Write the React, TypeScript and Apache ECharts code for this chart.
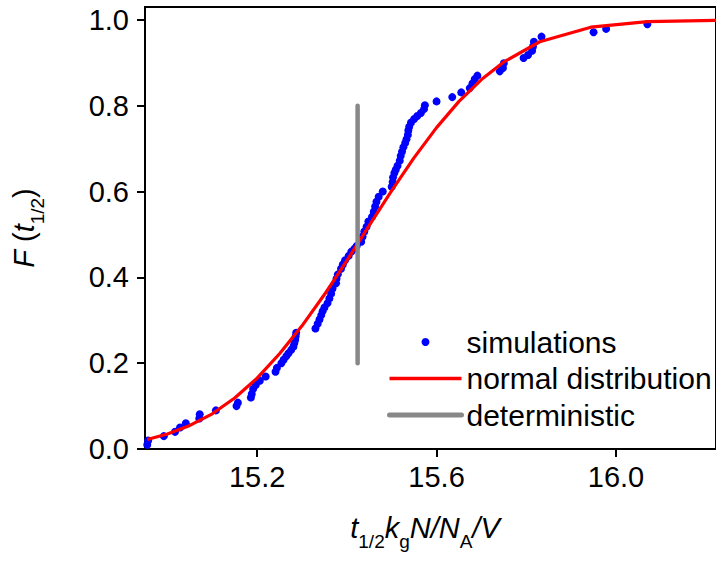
import React, { useEffect, useRef } from "react";
import * as echarts from "echarts";

// ---------- data ----------
const xTicks = [15.2, 15.6, 16.0];
const yTicks = [0, 0.2, 0.4, 0.6, 0.8, 1.0];

const simX = [
  14.955, 14.957, 14.992, 15.017, 15.028, 15.041, 15.071, 15.072, 15.108, 15.154,
  15.157, 15.186, 15.188, 15.191, 15.197, 15.206, 15.219, 15.241, 15.244, 15.254,
  15.259, 15.265, 15.270, 15.276, 15.281, 15.283, 15.285, 15.286, 15.287, 15.330,
  15.335, 15.339, 15.343, 15.346, 15.350, 15.357, 15.361, 15.365, 15.368, 15.376,
  15.377, 15.380, 15.387, 15.391, 15.396, 15.404, 15.410, 15.417, 15.422, 15.432,
  15.435, 15.439, 15.444, 15.448, 15.456, 15.460, 15.463, 15.466, 15.471, 15.480,
  15.500, 15.502, 15.503, 15.506, 15.509, 15.513, 15.518, 15.520, 15.523, 15.526,
  15.530, 15.533, 15.536, 15.537, 15.539, 15.543, 15.550, 15.557, 15.565, 15.572,
  15.574, 15.600, 15.635, 15.655, 15.674, 15.680, 15.685, 15.691, 15.741, 15.748,
  15.750, 15.794, 15.804, 15.813, 15.815, 15.817, 15.834, 15.950, 15.978, 16.070,
];
const simY = [
  0.010, 0.020, 0.030, 0.040, 0.050, 0.060, 0.071, 0.081, 0.090, 0.100,
  0.108, 0.120, 0.128, 0.140, 0.149, 0.159, 0.169, 0.180, 0.189, 0.200,
  0.208, 0.216, 0.223, 0.231, 0.239, 0.247, 0.255, 0.263, 0.271, 0.281,
  0.292, 0.302, 0.312, 0.321, 0.330, 0.340, 0.351, 0.362, 0.374, 0.386,
  0.397, 0.407, 0.420, 0.430, 0.440, 0.450, 0.460, 0.467, 0.473, 0.483,
  0.495, 0.507, 0.518, 0.530, 0.541, 0.553, 0.565, 0.576, 0.588, 0.600,
  0.611, 0.622, 0.633, 0.643, 0.651, 0.660, 0.672, 0.683, 0.693, 0.703,
  0.713, 0.722, 0.732, 0.742, 0.751, 0.761, 0.769, 0.776, 0.783, 0.792,
  0.801, 0.810, 0.820, 0.831, 0.841, 0.852, 0.862, 0.870, 0.880, 0.888,
  0.899, 0.911, 0.918, 0.928, 0.938, 0.949, 0.961, 0.971, 0.979, 0.990,
];

const normX = [
  14.955, 15.0, 15.05, 15.1, 15.15, 15.2, 15.25, 15.3, 15.35, 15.4, 15.45,
  15.5, 15.55, 15.6, 15.65, 15.7, 15.75, 15.83, 15.944, 16.07, 16.23,
];
const normY = [
  0.022, 0.035, 0.055, 0.082, 0.119, 0.165, 0.222, 0.287, 0.36, 0.439, 0.521,
  0.602, 0.679, 0.749, 0.81, 0.861, 0.902, 0.949, 0.983, 0.996, 0.999,
];

const detX = [15.424, 15.424];
const detY = [0.2, 0.8];

const seriesNames = ["simulations", "normal distribution", "deterministic"];

const FONT = "'Liberation Sans', Arial, sans-serif";

export default function App() {
  const ref = useRef<HTMLDivElement>(null);

  useEffect(() => {
    if (!ref.current) return;
    const chart = echarts.init(ref.current, undefined, { renderer: "svg" });

    const pairs = (xs: number[], ys: number[]) => xs.map((x, i) => [x, ys[i]]);

    const mainTok = {
      fontStyle: "italic",
      fontSize: 29,
      fontFamily: FONT,
      lineHeight: 46,
      verticalAlign: "middle",
      fill: "#000",
      textFill: "#000",
    };
    const normTok = { ...mainTok, fontStyle: "normal" };
    const subTok = {
      fontStyle: "normal",
      fontSize: 19,
      fontFamily: FONT,
      lineHeight: 18,
      verticalAlign: "bottom",
      textVerticalAlign: "bottom",
      fill: "#000",
      textFill: "#000",
    };
    const rich = { i: mainTok, n: normTok, s: subTok };

    chart.setOption({
      animation: false,
      backgroundColor: "#fff",
      grid: {
        left: 145,
        right: -2,
        top: 7,
        bottom: 112,
        show: true,
        borderColor: "#000",
        borderWidth: 2,
        containLabel: false,
      },
      xAxis: {
        type: "value",
        min: 14.95,
        max: 16.223,
        axisLine: { show: true, onZero: false, lineStyle: { color: "#000", width: 2 } },
        axisTick: {
          show: true,
          customValues: xTicks,
          length: 8,
          inside: false,
          lineStyle: { color: "#000", width: 2 },
        },
        axisLabel: {
          customValues: xTicks,
          formatter: (v: number) => v.toFixed(1),
          fontSize: 29,
          fontFamily: FONT,
          color: "#000",
          margin: 13,
        },
        splitLine: { show: false },
      },
      yAxis: {
        type: "value",
        min: 0,
        max: 1.03,
        axisLine: { show: true, onZero: false, lineStyle: { color: "#000", width: 2 } },
        axisTick: {
          show: true,
          customValues: yTicks,
          length: 8,
          inside: false,
          lineStyle: { color: "#000", width: 2 },
        },
        axisLabel: {
          customValues: yTicks,
          formatter: (v: number) => v.toFixed(1),
          fontSize: 29,
          fontFamily: FONT,
          color: "#000",
          margin: 16,
        },
        splitLine: { show: false },
      },
      legend: {
        orient: "vertical",
        left: 382,
        top: 322,
        itemWidth: 72,
        itemHeight: 8,
        itemGap: 6.5,
        data: [
          { name: seriesNames[0] },
          {
            name: seriesNames[1],
            itemStyle: { opacity: 0 },
            lineStyle: { width: 3.5, color: "#ff0000" },
          },
          {
            name: seriesNames[2],
            itemStyle: { opacity: 0 },
            lineStyle: { width: 5, color: "#888888" },
          },
        ],
        textStyle: { fontSize: 30, fontFamily: FONT, color: "#000", lineHeight: 30 },
        selectedMode: false,
      },
      graphic: [
        {
          type: "text",
          x: 425,
          y: 528,
          style: {
            text: "{i|t}{s|1/2}{i|k}{s|g}{i|N/N}{s|A}{i|/V}",
            rich,
            align: "center",
            verticalAlign: "middle",
            textAlign: "center",
            textVerticalAlign: "middle",
            fontSize: 29,
            fontFamily: FONT,
            fill: "#000",
          },
        },
        {
          type: "text",
          x: 24,
          y: 228,
          rotation: Math.PI / 2,
          style: {
            text: "{i|F}{n| (}{i|t}{s|1/2}{n|)}",
            rich,
            align: "center",
            verticalAlign: "middle",
            textAlign: "center",
            textVerticalAlign: "middle",
            fontSize: 29,
            fontFamily: FONT,
            fill: "#000",
          },
        },
      ],
      series: [
        {
          name: seriesNames[0],
          type: "scatter",
          data: pairs(simX, simY),
          symbol: "circle",
          symbolSize: 8,
          itemStyle: { color: "#0000ff", opacity: 1 },
          z: 2,
        },
        {
          name: seriesNames[1],
          type: "line",
          data: pairs(normX, normY),
          symbol: "none",
          showSymbol: false,
          smooth: false,
          lineStyle: { color: "#ff0000", width: 3.2 },
          itemStyle: { color: "#ff0000" },
          z: 3,
        },
        {
          name: seriesNames[2],
          type: "line",
          data: pairs(detX, detY),
          symbol: "none",
          showSymbol: false,
          lineStyle: { color: "#888888", width: 4.5, cap: "round" },
          itemStyle: { color: "#888888" },
          z: 4,
        },
      ],
    });

    return () => chart.dispose();
  }, []);

  return (
    <div
      ref={ref}
      style={{ position: "fixed", left: 0, top: 0, width: 716, height: 561 }}
    />
  );
}
